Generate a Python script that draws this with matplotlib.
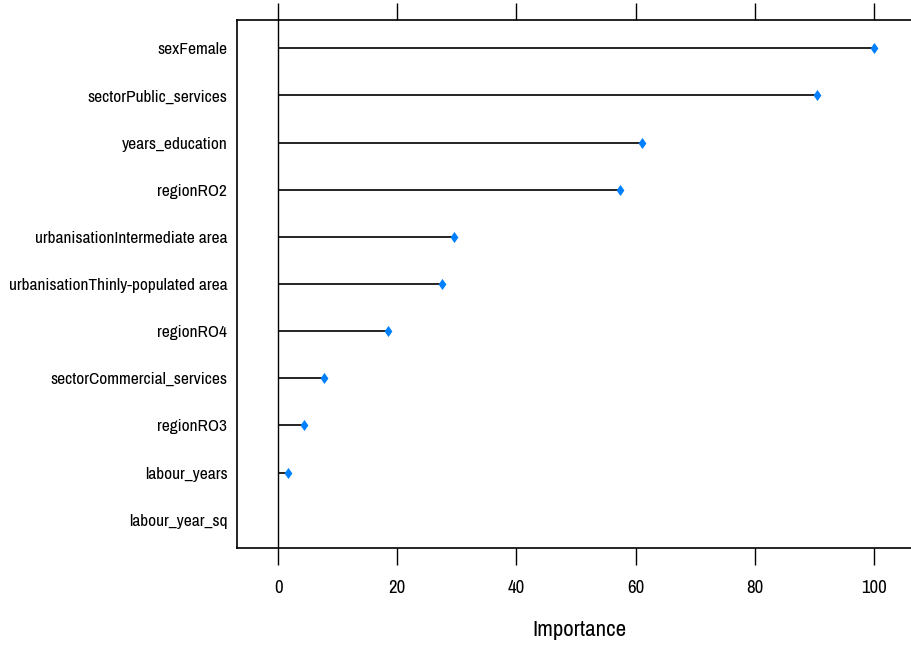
import matplotlib
matplotlib.use("Agg")
import matplotlib.pyplot as plt
from matplotlib.path import Path

features = ["sexFemale", "sectorPublic_services", "years_education", "regionRO2",
            "urbanisationIntermediate area", "urbanisationThinly-populated area",
            "regionRO4", "sectorCommercial_services", "regionRO3", "labour_years",
            "labour_year_sq"]
importance = [100.0, 90.5, 61.1, 57.3, 29.5, 27.5, 18.4, 7.7, 4.4, 1.7, 0.0]
xticks = [0, 20, 40, 60, 80, 100]

plt.rcParams["font.family"] = ["Archivo Narrow", "Roboto Condensed", "DejaVu Sans"]

fig = plt.figure(figsize=(9.12, 6.49), dpi=100)
ax = fig.add_axes([237/912, 1-548/649, 1-237/912 + 0.01, (548-20)/649])

diamond = Path([(0, 1.0), (0.7, 0), (0, -1.0), (-0.7, 0), (0, 1.0)],
               [Path.MOVETO, Path.LINETO, Path.LINETO, Path.LINETO, Path.CLOSEPOLY])

n = len(features)
ys = list(range(n, 0, -1))
for y, v in zip(ys, importance):
    ax.plot([0, v], [y, y], color="black", lw=1.2, solid_capstyle="butt", zorder=2)
ax.plot(importance[:-1], ys[:-1], linestyle="none", marker=diamond, markersize=8,
        color="#0080FF", markeredgewidth=0, zorder=3)
ax.axvline(0, color="black", lw=1.0, zorder=1)

ax.set_xlim(-6.9, 107.9)
ax.set_ylim(0.4, n + 0.6)
ax.set_yticks(ys)
ax.set_yticklabels(features, fontsize=12.5)
ax.tick_params(axis="y", length=0, pad=7)
ax.set_xticks(xticks)
ax.set_xticklabels([str(t) for t in xticks], fontsize=13.5)
ax.tick_params(axis="x", direction="out", length=12, width=1, pad=11,
               top=True, labeltop=False)
ax.set_xlabel("Importance", fontsize=16.5, labelpad=17)
for s in ax.spines.values():
    s.set_linewidth(1.2)

fig.savefig("out.png", dpi=100)
